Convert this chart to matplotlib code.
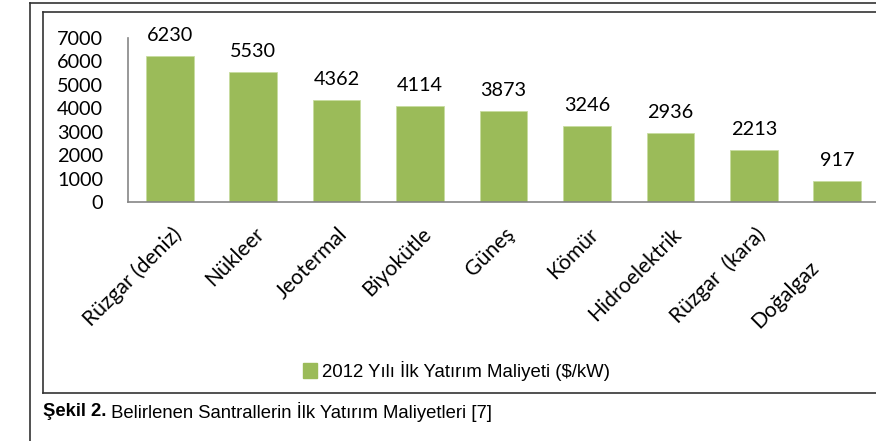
import numpy as np
import matplotlib
matplotlib.use("Agg")
import matplotlib.pyplot as plt
from matplotlib.lines import Line2D
from matplotlib.patches import Rectangle
import matplotlib.transforms as mtransforms

categories = ["Rüzgar (deniz)", "Nükleer", "Jeotermal", "Biyokütle", "Güneş",
              "Kömür", "Hidroelektrik", "Rüzgar  (kara)", "Doğalgaz"]
costs = [6230, 5530, 4362, 4114, 3873, 3246, 2936, 2213, 917]
yticks = [0, 1000, 2000, 3000, 4000, 5000, 6000, 7000]
legend_label = "2012 Yılı İlk Yatırım Maliyeti ($/kW)"
caption_bold = "Şekil 2."
caption_rest = " Belirlenen Santrallerin İlk Yatırım Maliyetleri [7]"

W, H = 876, 441
fig = plt.figure(figsize=(W / 100, H / 100), dpi=100)

def fx(px): return px / W
def fy(py): return 1 - py / H

calibri = ["Lato", "DejaVu Sans"]
narrow = ["Liberation Sans", "DejaVu Sans"]
green = "#9BBB59"

# frames
fig.add_artist(Line2D([fx(30), fx(30)], [fy(3), fy(441)], color="#333333", lw=1.2))
fig.add_artist(Line2D([fx(30), fx(876)], [fy(3), fy(3)], color="#333333", lw=1.2))
fig.add_artist(Line2D([fx(43), fx(43)], [fy(12), fy(393)], color="#333333", lw=1.2))
fig.add_artist(Line2D([fx(43), fx(876)], [fy(12), fy(12)], color="#333333", lw=1.2))
fig.add_artist(Line2D([fx(43), fx(876)], [fy(393), fy(393)], color="#333333", lw=1.2))

ax = fig.add_axes([fx(128), fy(202), fx(879 - 128), (202 - 38) / H])
x = np.arange(len(categories))
ax.bar(x, costs, width=0.57, color=green, edgecolor="#c8dca0", linewidth=0.6)
ax.set_xlim(-0.5, len(categories) - 0.5)
ax.set_ylim(0, 7000)
ax.set_yticks(yticks)
ax.set_yticklabels([str(t) for t in yticks], fontfamily=calibri, fontsize=14.3)
ax.tick_params(axis="y", length=0, pad=18)
ax.tick_params(axis="x", length=0, pad=0)
ax.set_xticks(x)
ax.set_xticklabels(categories, fontfamily=calibri, fontsize=15.2, rotation=45,
                   ha="right", va="top", rotation_mode="anchor")
labs = ax.get_xticklabels()
for i, lab in enumerate(labs):
    dx, dy = 1, -22
    if i == len(labs) - 1:
        dx, dy = -29, -55
    off = mtransforms.ScaledTranslation(dx / 100, dy / 100, fig.dpi_scale_trans)
    lab.set_transform(lab.get_transform() + off)
for s in ["top", "right"]:
    ax.spines[s].set_visible(False)
for s in ["left", "bottom"]:
    ax.spines[s].set_color("#868686")
    ax.spines[s].set_linewidth(1.2)

for xi, v in zip(x, costs):
    ax.annotate(str(v), (xi, v), xytext=(0, 15), textcoords="offset pixels",
                ha="center", va="baseline", fontfamily=calibri, fontsize=14.3)

# legend
fig.add_artist(Rectangle((fx(303), fy(378)), fx(14), 15 / H, color=green,
                         transform=fig.transFigure))
fig.text(fx(322), fy(371), legend_label, fontfamily=narrow, fontsize=13.4,
         va="center", ha="left")

# caption
t = fig.text(fx(43), fy(412), caption_bold, fontfamily=narrow, fontsize=13.3,
             fontweight="bold", va="center", ha="left")
fig.canvas.draw()
bb = t.get_window_extent()
fig.text(bb.x1 / W, fy(412), caption_rest, fontfamily=narrow, fontsize=13.3,
         va="center", ha="left")

fig.savefig("out.png", dpi=100)
